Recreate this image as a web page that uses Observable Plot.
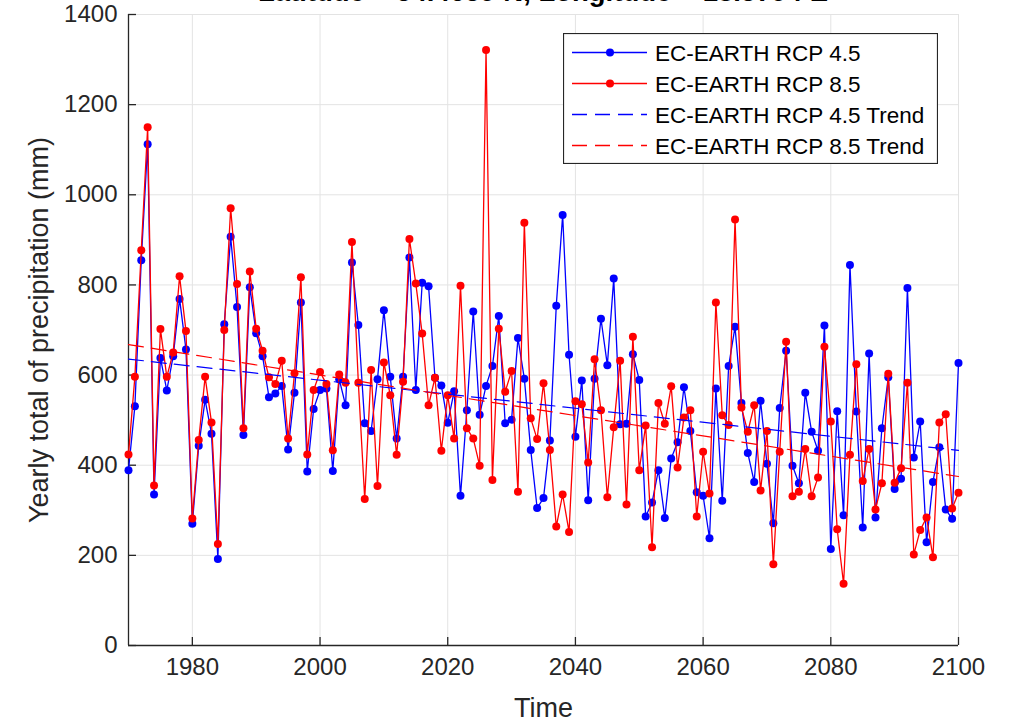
<!DOCTYPE html>
<html>
<head>
<meta charset="utf-8">
<script src="https://cdn.jsdelivr.net/npm/d3@7"></script>
<script src="https://cdn.jsdelivr.net/npm/@observablehq/plot@0.6"></script>
<style>
  html, body { margin: 0; padding: 0; background: #fff; }
  #wrap { position: relative; width: 1012px; height: 724px; overflow: hidden; font-family: "Liberation Sans", Arial, Helvetica, sans-serif; }
  #title { position: absolute; left: 0; top: 0; }
  #legend { position: absolute; left: 563px; top: 33px; }
</style>
</head>
<body>
<div id="wrap"></div>
<script>
// ---- data ----
const firstYear = 1970;
const lastYear = 2100;
const rcp45 = [
  389, 531, 855, 1112, 335, 638, 566, 642, 769, 657,
  270, 443, 545, 470, 192, 713, 907, 751, 467, 795,
  693, 642, 551, 559, 576, 435, 561, 761, 386, 525,
  567, 570, 387, 591, 533, 850, 711, 493, 476, 591,
  744, 596, 459, 596, 861, 567, 805, 797, 594, 577,
  494, 564, 332, 522, 741, 512, 576, 620, 731, 493,
  501, 682, 592, 434, 305, 327, 455, 754, 955, 645,
  463, 588, 322, 592, 725, 622, 814, 491, 492, 646,
  589, 286, 317, 389, 283, 415, 451, 573, 476, 340,
  332, 238, 570, 321, 620, 707, 538, 427, 363, 543,
  403, 271, 527, 654, 399, 360, 561, 474, 432, 710,
  214, 520, 289, 844, 519, 262, 648, 284, 482, 595,
  347, 370, 793, 417, 497, 229, 363, 440, 302, 281,
  627
];
const rcp85 = [
  424, 596, 877, 1150, 355, 702, 596, 650, 819, 698,
  282, 456, 596, 495, 225, 700, 970, 802, 482, 830,
  703, 654, 595, 580, 632, 459, 604, 817, 424, 567,
  607, 580, 433, 601, 583, 895, 583, 325, 611, 354,
  628, 555, 423, 585, 902, 803, 692, 533, 594, 432,
  555, 459, 798, 482, 459, 399, 1321, 367, 703, 563,
  609, 341, 938, 504, 458, 582, 434, 264, 335, 252,
  542, 535, 406, 635, 522, 329, 484, 632, 313, 685,
  389, 488, 218, 538, 492, 575, 395, 506, 522, 286,
  430, 337, 761, 511, 489, 945, 528, 474, 533, 344,
  476, 180, 430, 674, 331, 341, 436, 331, 373, 663,
  497, 258, 137, 423, 624, 365, 436, 302, 360, 603,
  361, 393, 583, 202, 256, 284, 196, 495, 513, 304,
  339
];
const xTicks = [1980, 2000, 2020, 2040, 2060, 2080, 2100];
const yTicks = [0, 200, 400, 600, 800, 1000, 1200, 1400];
const seriesNames = ["EC-EARTH RCP 4.5", "EC-EARTH RCP 8.5", "EC-EARTH RCP 4.5 Trend", "EC-EARTH RCP 8.5 Trend"];
const titleText = "Latitude = 54.4659 N, Longitude = 18.5794 E";
const xLabel = "Time";
const yLabel = "Yearly total of precipitation (mm)";

// ---- build tables ----
const years = d3.range(firstYear, lastYear + 1);
const d45 = years.map((y, i) => ({year: y, value: rcp45[i]}));
const d85 = years.map((y, i) => ({year: y, value: rcp85[i]}));

const BLUE = "#0000ff", RED = "#ff0000", INK = "#262626", GRID = "#e3e3e3";
const FONT = '"Liberation Sans", Arial, Helvetica, sans-serif';
const DASH = "15,8";
const R = 4;

const chart = Plot.plot({
  width: 1012,
  height: 724,
  marginLeft: 128,
  marginRight: 54,
  marginTop: 14,
  marginBottom: 79,
  style: {fontFamily: FONT, fontSize: "24px", color: INK, background: "white"},
  x: {domain: [firstYear, lastYear]},
  y: {domain: [0, 1400]},
  marks: [
    Plot.gridX(xTicks, {stroke: GRID, strokeOpacity: 1, strokeWidth: 1}),
    Plot.gridY(yTicks.slice(1), {stroke: GRID, strokeOpacity: 1, strokeWidth: 1}),
    Plot.axisX(xTicks, {tickSize: 0, tickPadding: 12, tickFormat: d => String(d), label: null, fontSize: 24, fill: INK}),
    Plot.axisX(xTicks, {tickSize: -8, tickFormat: () => "", label: null, stroke: INK, strokeWidth: 1.3}),
    Plot.axisY(yTicks, {tickSize: 0, tickPadding: 11, tickFormat: d => String(d), label: null, fontSize: 24, fill: INK}),
    Plot.axisY(yTicks, {tickSize: -8, tickFormat: () => "", label: null, stroke: INK, strokeWidth: 1.3}),
    Plot.ruleY([0], {stroke: INK, strokeWidth: 1.3}),
    Plot.ruleX([firstYear], {stroke: INK, strokeWidth: 1.3}),
    Plot.line(d45, {x: "year", y: "value", stroke: BLUE, strokeWidth: 1.3}),
    Plot.dot(d45, {x: "year", y: "value", r: R, fill: BLUE, stroke: "none"}),
    Plot.line(d85, {x: "year", y: "value", stroke: RED, strokeWidth: 1.3}),
    Plot.dot(d85, {x: "year", y: "value", r: R, fill: RED, stroke: "none"}),
    Plot.linearRegressionY(d45, {x: "year", y: "value", stroke: BLUE, strokeWidth: 1.2, strokeDasharray: DASH, ci: 0}),
    Plot.linearRegressionY(d85, {x: "year", y: "value", stroke: RED, strokeWidth: 1.2, strokeDasharray: DASH, ci: 0}),
    Plot.text([xLabel], {frameAnchor: "bottom", dy: 63, fontSize: 27, fill: INK, lineAnchor: "middle", textAnchor: "middle"}),
    Plot.text([yLabel], {frameAnchor: "left", dx: -89, rotate: -90, fontSize: 27, fill: INK, lineAnchor: "middle", textAnchor: "middle"})
  ]
});

const wrap = document.getElementById("wrap");
wrap.appendChild(chart);

// Title (mostly cut off at the top, as in the reference)
const ns = "http://www.w3.org/2000/svg";
const tsvg = document.createElementNS(ns, "svg");
tsvg.setAttribute("id", "title");
tsvg.setAttribute("width", 1012);
tsvg.setAttribute("height", 20);
const tt = document.createElementNS(ns, "text");
tt.setAttribute("x", 543);
tt.setAttribute("y", 1);
tt.setAttribute("text-anchor", "middle");
tt.setAttribute("font-family", FONT);
tt.setAttribute("font-weight", "bold");
tt.setAttribute("font-size", 27.5);
tt.setAttribute("fill", "#000");
tt.textContent = titleText;
tsvg.appendChild(tt);
wrap.appendChild(tsvg);

// Legend
const lw = 375, lh = 131;
const lsvg = document.createElementNS(ns, "svg");
lsvg.setAttribute("id", "legend");
lsvg.setAttribute("width", lw);
lsvg.setAttribute("height", lh);
const rect = document.createElementNS(ns, "rect");
rect.setAttribute("x", 0.5); rect.setAttribute("y", 0.5);
rect.setAttribute("width", lw - 1); rect.setAttribute("height", lh - 1);
rect.setAttribute("fill", "#fff"); rect.setAttribute("stroke", INK); rect.setAttribute("stroke-width", 1.2);
lsvg.appendChild(rect);
const colors = [BLUE, RED, BLUE, RED];
seriesNames.forEach((name, i) => {
  const cy = 19.5 + i * 31;
  const ln = document.createElementNS(ns, "line");
  ln.setAttribute("x1", 9); ln.setAttribute("x2", 84);
  ln.setAttribute("y1", cy); ln.setAttribute("y2", cy);
  ln.setAttribute("stroke", colors[i]);
  ln.setAttribute("stroke-width", 1.4);
  if (i >= 2) ln.setAttribute("stroke-dasharray", DASH);
  lsvg.appendChild(ln);
  if (i < 2) {
    const c = document.createElementNS(ns, "circle");
    c.setAttribute("cx", 47); c.setAttribute("cy", cy); c.setAttribute("r", R);
    c.setAttribute("fill", colors[i]);
    lsvg.appendChild(c);
  }
  const t = document.createElementNS(ns, "text");
  t.setAttribute("x", 92); t.setAttribute("y", cy);
  t.setAttribute("dy", "0.36em");
  t.setAttribute("font-family", FONT);
  t.setAttribute("font-size", 22.5);
  t.setAttribute("fill", "#000");
  t.textContent = name;
  lsvg.appendChild(t);
});
wrap.appendChild(lsvg);
</script>
</body>
</html>
